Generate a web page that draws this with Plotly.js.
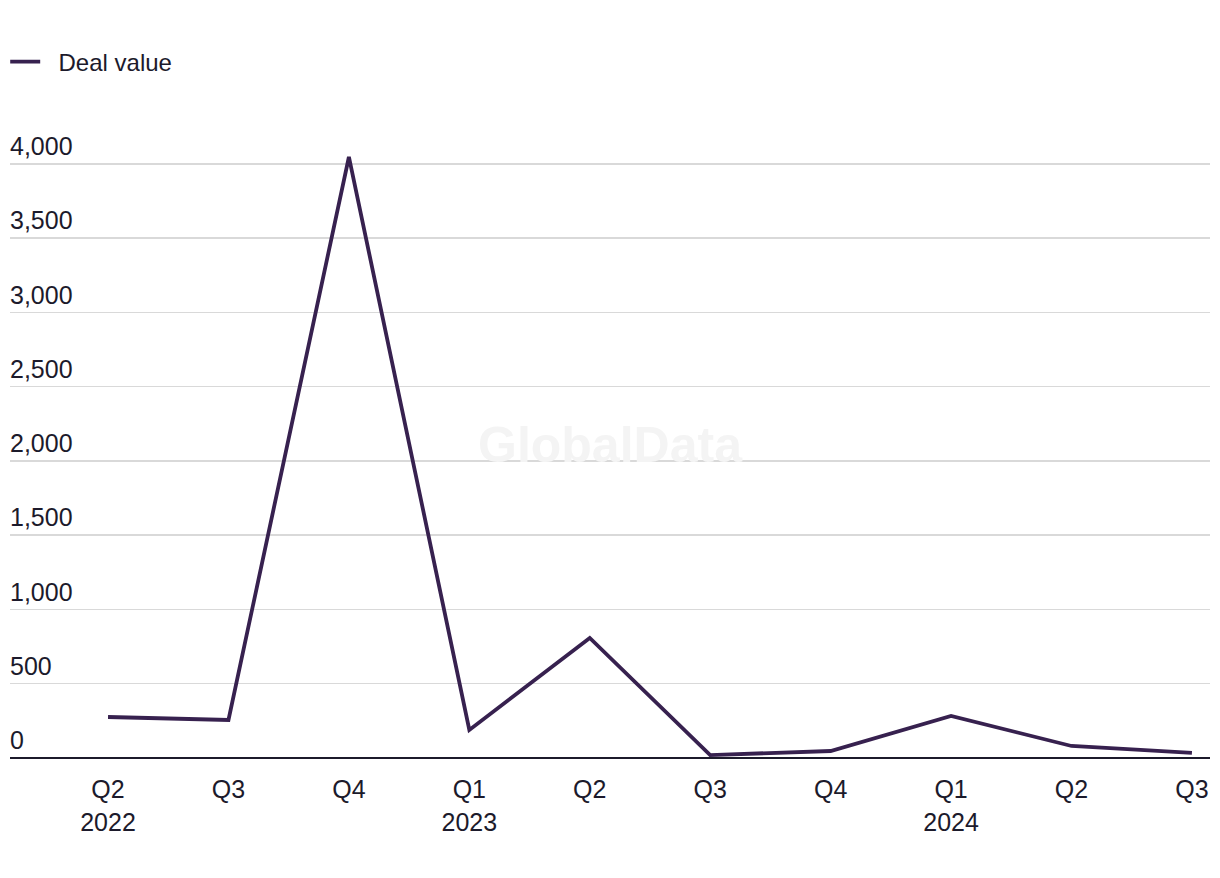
<!DOCTYPE html>
<html>
<head>
<meta charset="utf-8">
<script src="https://cdn.plot.ly/plotly-3.0.1.min.js"></script>
<style>
  body { margin: 0; background: #fff; }
  #chart { width: 1220px; height: 878px; }
</style>
</head>
<body>
<div id="chart"></div>
<script>
// quarters and deal values
var quarters = ['Q2', 'Q3', 'Q4', 'Q1', 'Q2', 'Q3', 'Q4', 'Q1', 'Q2', 'Q3'];
var years    = ['2022', '', '', '2023', '', '', '', '2024', '', ''];
var dealValue = [276, 256, 4047, 189, 808, 20, 47, 283, 81, 34];

var idx = quarters.map(function(q, i){ return i; });
var tickText = quarters.map(function(q, i){
  return years[i] ? q + '<br>' + years[i] : q;
});

var ink = '#1c1a2b';
var fontName = 'Liberation Sans, Arial, sans-serif';

var trace = {
  x: idx,
  y: dealValue,
  name: '\u00a0\u00a0Deal value',
  type: 'scatter',
  mode: 'lines',
  line: { color: '#37214f', width: 3.8 },
  cliponaxis: false,
  hoverinfo: 'skip'
};

var layout = {
  width: 1220,
  height: 878,
  margin: { l: 10, r: 10, t: 120, b: 120 },
  paper_bgcolor: '#fff',
  plot_bgcolor: '#fff',
  font: { family: fontName, size: 24, color: ink },
  showlegend: true,
  legend: {
    x: -0.004, y: 0.955, yref: 'container', yanchor: 'top',
    xanchor: 'left', orientation: 'h',
    font: { size: 24, color: ink },
    itemwidth: 30,
    bgcolor: 'rgba(0,0,0,0)'
  },
  xaxis: {
    range: [-0.814, 9.15],
    tickvals: idx,
    ticktext: tickText,
    showgrid: false,
    zeroline: false,
    showline: false,
    ticks: '',
    ticklabelstandoff: 14,
    tickfont: { size: 25, color: ink },
    fixedrange: true
  },
  yaxis: {
    range: [0, 4296],
    dtick: 500,
    tickformat: ',',
    ticklabelposition: 'inside top',
    ticklabelstandoff: -3,
    ticklabelshift: 0,
    showgrid: true,
    gridcolor: '#d9d9d9',
    gridwidth: 1.5,
    zeroline: true,
    zerolinecolor: ink,
    zerolinewidth: 2,
    ticks: '',
    tickfont: { size: 25, color: ink },
    fixedrange: true
  },
  annotations: [{
    text: '<b>GlobalData</b>',
    xref: 'paper', yref: 'paper', x: 0.5, y: 0.49,
    showarrow: false,
    font: { size: 50, color: '#f4f4f4', family: fontName }
  }]
};

Plotly.newPlot('chart', [trace], layout, { displayModeBar: false, staticPlot: true });
</script>
</body>
</html>
